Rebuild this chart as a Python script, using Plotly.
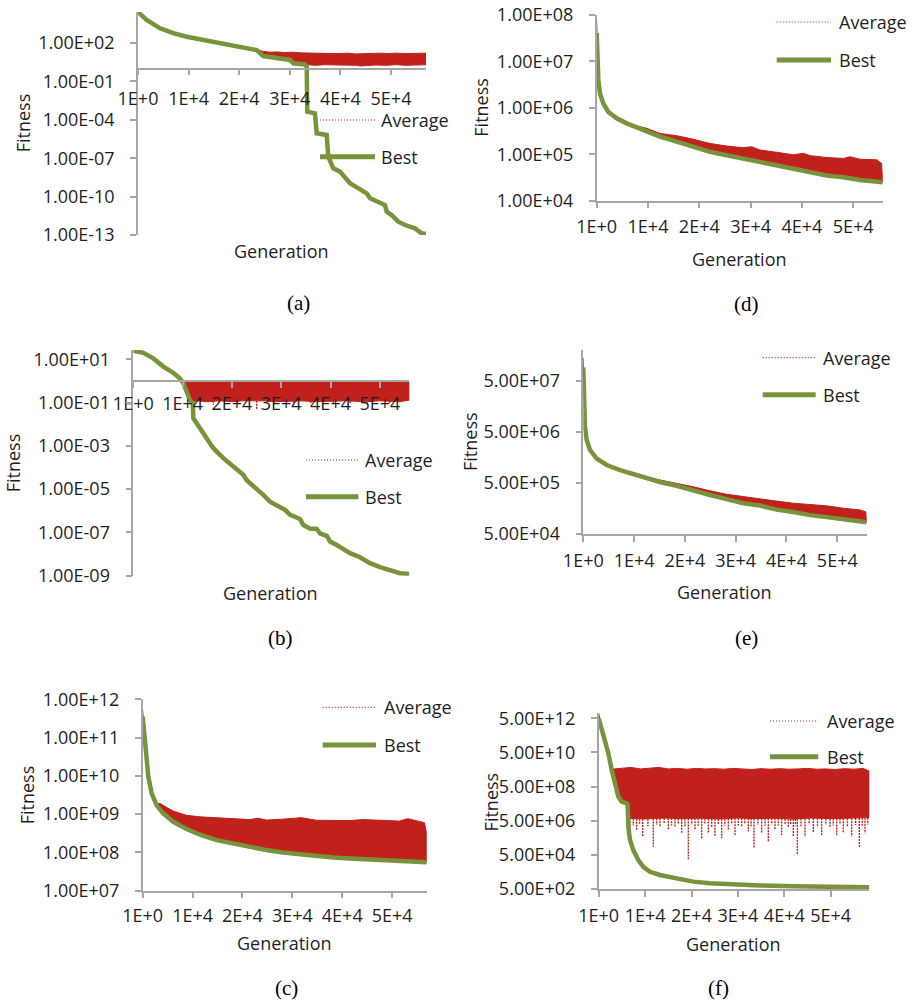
import numpy as np
import plotly.graph_objects as go

W, H = 913, 1005
RED = "#C0211A"
GREEN = "#77933C"
AXIS = "#A6A6A6"
TEXT = "#1F1F1F"
FONT = "Open Sans"
SERIF = "Liberation Serif"

# ---------------- tick labels ----------------
x_tick_vals = [1, 10001, 20001, 30001, 40001, 50001]
x_tick_text = ["1E+0", "1E+4", "2E+4", "3E+4", "4E+4", "5E+4"]

a_y_tick_vals = [1e2, 1e-1, 1e-4, 1e-7, 1e-10, 1e-13]
a_y_tick_text = ["1.00E+02", "1.00E-01", "1.00E-04", "1.00E-07", "1.00E-10", "1.00E-13"]
b_y_tick_vals = [1e1, 1e-1, 1e-3, 1e-5, 1e-7, 1e-9]
b_y_tick_text = ["1.00E+01", "1.00E-01", "1.00E-03", "1.00E-05", "1.00E-07", "1.00E-09"]
c_y_tick_vals = [1e12, 1e11, 1e10, 1e9, 1e8, 1e7]
c_y_tick_text = ["1.00E+12", "1.00E+11", "1.00E+10", "1.00E+09", "1.00E+08", "1.00E+07"]
d_y_tick_vals = [1e8, 1e7, 1e6, 1e5, 1e4]
d_y_tick_text = ["1.00E+08", "1.00E+07", "1.00E+06", "1.00E+05", "1.00E+04"]
e_y_tick_vals = [5e7, 5e6, 5e5, 5e4]
e_y_tick_text = ["5.00E+07", "5.00E+06", "5.00E+05", "5.00E+04"]
f_y_tick_vals = [5e12, 5e10, 5e8, 5e6, 5e4, 5e2]
f_y_tick_text = ["5.00E+12", "5.00E+10", "5.00E+08", "5.00E+06", "5.00E+04", "5.00E+02"]

series_names = ["Average", "Best"]
x_title = "Generation"
y_title = "Fitness"

# ---------------- panel (a) ----------------
a_best_gen = [1, 1720, 4350, 6980, 9620, 14880, 20160, 23450, 24770, 27400, 30040, 30700, 33000,
              33340, 33460, 34980, 35310, 37290, 37610, 38600, 39920, 41900, 43870, 45200, 45850,
              47830, 48810, 49150, 50130, 51450, 52770, 54740, 56060, 56920]
a_best_val = [2.6e4, 6.3e3, 1.4e3, 5.8e2, 3.1e2, 1.26e2, 51, 28, 9.5, 6.3, 4.7, 2.6, 2.1,
              1.4, 4.3e-4, 3.2e-4, 8.9e-6, 6.5e-6, 1.3e-7, 1.6e-8, 8.9e-9, 1.1e-9, 3.3e-10, 1.8e-10, 7.4e-11,
              3.0e-11, 2.2e-11, 6.6e-12, 3.6e-12, 1.1e-12, 6.0e-13, 3.3e-13, 1.35e-13, 1.2e-13]
a_avg_up_gen = [18800, 20160, 22000, 23450, 24770, 26000, 27500, 29000, 30700, 32000, 33500, 35000,
                36600, 38000, 39900, 41500, 43000, 44500, 46000, 47800, 49500, 51000, 52800, 54500,
                56000, 56920]
a_avg_up_val = [63, 55, 42, 30, 22, 19, 20, 18, 19, 17, 16, 15,
                16, 15, 15, 16, 14, 15, 15, 16, 15, 16, 15, 16,
                17, 16]
a_avg_lo_gen = [18800, 20160, 23450, 24770, 27400, 30040, 30700, 33000, 33500, 35000, 37000, 39000,
                41000, 43000, 44000, 45000, 47000, 49000, 51000, 53000, 55000, 56920]
a_avg_lo_val = [63, 51, 28, 9.5, 6.3, 4.7, 2.6, 2.1, 1.9, 1.8, 2.0, 1.8,
                1.9, 1.8, 1.6, 1.8, 1.9, 1.8, 2.0, 1.8, 1.9, 2.0]

# ---------------- panel (b) ----------------
b_best_gen = [1, 2030, 4060, 6090, 8110, 9470, 10140, 10830, 11500, 12050, 12170, 12860, 14200,
              16230, 18260, 20280, 22310, 23000, 25030, 26370, 27730, 29090, 30770, 31790, 33810,
              34480, 35840, 37200, 37870, 39230, 39900, 41260, 43960, 45990, 48010, 50040, 52070,
              54100, 55980]
b_best_val = [25, 20, 11, 4.6, 2.4, 1.3, 0.78, 0.32, 0.13, 0.093, 0.019, 0.011, 3.8e-3,
              7.8e-4, 2.7e-4, 1.1e-4, 4.6e-5, 2.6e-5, 1.1e-5, 5.4e-6, 2.6e-6, 1.7e-6, 1.1e-6, 6.5e-7, 4.2e-7,
              2.2e-7, 1.5e-7, 1.45e-7, 9.1e-8, 6.9e-8, 3.8e-8, 2.6e-8, 1.1e-8, 7.1e-9, 3.8e-9, 2.5e-9, 1.7e-9,
              1.3e-9, 1.2e-9]
b_avg_up_gen = [8110, 9000, 10000, 11000, 12000, 14000, 16000, 18000, 20000, 22000, 24000, 26000,
                28000, 30000, 32000, 34000, 36000, 38000, 40000, 42000, 44000, 46000, 48000, 50000,
                52000, 54000, 55980]
b_avg_up_val = [2.4, 1.6, 1.1, 0.95, 0.92, 0.9, 0.93, 0.9, 0.92, 0.9, 0.91, 0.93,
                0.9, 0.92, 0.94, 0.9, 0.92, 0.9, 0.92, 0.93, 0.9, 0.92, 0.9, 0.92,
                0.9, 0.92, 0.9]
b_avg_lo_gen = [8110, 9470, 10140, 10830, 11500, 12050, 13000, 15000, 17500, 20280, 22000, 26500,
                29000, 34000, 37000, 43000, 47350, 50000, 54100, 55980]
b_avg_lo_val = [2.4, 1.3, 0.78, 0.32, 0.13, 0.11, 0.12, 0.11, 0.12, 0.11, 0.12, 0.12,
                0.11, 0.12, 0.11, 0.12, 0.11, 0.12, 0.11, 0.13]
b_spike_gen = [16230, 21000, 25030, 28500, 32470, 36000, 40590, 44000, 47350, 52000]
b_spike_val = [0.078, 0.095, 0.046, 0.09, 0.078, 0.095, 0.087, 0.095, 0.091, 0.095]

# ---------------- panel (c) ----------------
c_best_gen = [1, 270, 670, 1130, 1800, 2800, 4130, 6130, 8800, 11470, 14800, 18130, 21470, 24800,
              28130, 31470, 34800, 38130, 41470, 44800, 48130, 51470, 56930]
c_best_val = [3.5e11, 1.3e11, 3.2e10, 9.5e9, 3.5e9, 1.7e9, 1.05e9, 6.3e8, 4.1e8, 2.9e8, 2.1e8, 1.7e8,
              1.35e8, 1.15e8, 1.0e8, 8.9e7, 8.1e7, 7.4e7, 6.9e7, 6.5e7, 6.2e7, 5.9e7, 5.5e7]
c_avg_up_gen = [1, 270, 670, 1130, 1800, 2800, 3470, 4800, 6130, 7470, 8800, 11470, 14800, 18130,
                21470, 23130, 24800, 28130, 29800, 31800, 34800, 38130, 41470, 44130, 48130, 51470,
                53130, 55470, 56470, 56930]
c_avg_up_val = [5.2e11, 1.3e11, 3.2e10, 9.5e9, 3.5e9, 1.9e9, 1.9e9, 1.5e9, 1.2e9, 1.05e9, 9.3e8, 8.5e8,
                8.1e8, 7.4e8, 7.2e8, 7.8e8, 7.0e8, 7.4e8, 7.8e8, 8.1e8, 6.9e8, 6.9e8, 6.8e8, 7.2e8,
                6.8e8, 6.6e8, 7.6e8, 6.6e8, 6.0e8, 3.2e8]

# ---------------- panel (d) ----------------
d_best_gen = [1, 130, 320, 650, 1300, 2270, 3900, 5850, 9100, 12340, 15590, 18840, 22090, 25340,
              28580, 31830, 35090, 38330, 41580, 44830, 48070, 51330, 55750]
d_best_val = [4.0e7, 1.07e7, 4.0e6, 2.0e6, 1.23e6, 8.1e5, 5.9e5, 4.6e5, 3.3e5, 2.4e5, 1.86e5, 1.45e5,
              1.12e5, 9.5e4, 8.1e4, 6.8e4, 5.6e4, 4.8e4, 4.3e4, 3.5e4, 3.2e4, 2.8e4, 2.5e4]
d_avg_up_gen = [1, 130, 320, 650, 1300, 2270, 3900, 5850, 9750, 12340, 15590, 18840, 22090, 25340,
                28580, 30210, 31830, 35090, 38330, 40280, 41580, 44830, 48070, 49370, 51330, 54570,
                55550, 55750]
d_avg_up_val = [7.1e7, 1.07e7, 4.0e6, 2.0e6, 1.23e6, 8.1e5, 5.9e5, 4.6e5, 3.6e5, 2.8e5, 2.5e5, 2.1e5,
                1.7e5, 1.5e5, 1.38e5, 1.45e5, 1.23e5, 1.1e5, 9.7e4, 1.05e5, 9.3e4, 8.5e4, 8.1e4, 8.8e4,
                7.8e4, 7.6e4, 6.3e4, 3.0e4]

# ---------------- panel (e) ----------------
e_best_gen = [1, 200, 330, 660, 1320, 2640, 4610, 7220, 10510, 15100, 18380, 21650, 24940, 28220,
              31500, 34780, 38070, 41340, 44630, 47910, 51180, 55790]
e_best_val = [9.1e7, 2.5e7, 6.3e6, 3.5e6, 2.2e6, 1.5e6, 1.12e6, 8.9e5, 7.1e5, 5.2e5, 4.4e5, 3.5e5,
              2.9e5, 2.4e5, 2.0e5, 1.8e5, 1.5e5, 1.35e5, 1.17e5, 1.07e5, 9.8e4, 8.5e4]
e_avg_up_gen = [1, 200, 330, 660, 1320, 2640, 4610, 7220, 10510, 15100, 18380, 21650, 24940, 28220,
                31500, 34780, 38070, 41340, 44630, 47910, 51180, 54460, 55640, 55790]
e_avg_up_val = [1.4e8, 2.5e7, 6.3e6, 3.5e6, 2.2e6, 1.5e6, 1.12e6, 8.9e5, 7.1e5, 5.7e5, 4.9e5, 4.2e5,
                3.5e5, 3.0e5, 2.7e5, 2.4e5, 2.2e5, 2.0e5, 1.86e5, 1.78e5, 1.6e5, 1.48e5, 1.35e5, 8.5e4]

# ---------------- panel (f) ----------------
f_best_gen = [1, 650, 1360, 2080, 2800, 3510, 4230, 4950, 6030, 6250, 6390, 6750, 7460, 8540, 9610,
              11060, 13210, 16810, 20390, 23990, 27590, 34760, 41940, 49140, 58320]
f_best_val = [5.0e12, 1.3e12, 2.7e11, 4.5e10, 4.7e9, 7.8e8, 1.3e8, 6.5e7, 5.2e7, 4.2e7, 2.2e6, 3.7e5,
              9.5e4, 2.5e4, 1.0e4, 5.1e3, 3.3e3, 2.1e3, 1.35e3, 1.07e3, 9.3e2, 8.1e2, 7.2e2, 6.6e2, 6.3e2]
f_avg_up_gen = [1, 650, 1360, 2080, 2800, 3500, 5000, 7000, 9000, 11000, 13000, 15000, 17000, 19000,
                21000, 23000, 25000, 27000, 29000, 31000, 33000, 35000, 37000, 39000, 41000, 43000,
                45000, 47000, 49000, 51000, 53000, 55000, 57000, 58320]
f_avg_up_val = [9.8e12, 1.3e12, 2.7e11, 4.5e10, 5.4e9, 5.4e9, 5.8e9, 6.6e9, 5.4e9, 5.8e9, 6.6e9, 5.4e9,
                5.8e9, 5.2e9, 5.8e9, 5.4e9, 5.6e9, 5.2e9, 5.8e9, 5.4e9, 5.0e9, 5.6e9, 5.2e9, 5.6e9,
                5.2e9, 5.4e9, 5.8e9, 5.2e9, 5.4e9, 5.0e9, 5.6e9, 5.2e9, 5.8e9, 4.0e9]
f_avg_lo_gen = [2800, 3510, 4230, 4950, 6030, 6250, 6500, 10000, 14000, 18000, 22000, 26000, 30000,
                34000, 38000, 42000, 46000, 50000, 54000, 58320]
f_avg_lo_val = [4.7e9, 7.8e8, 1.3e8, 6.5e7, 5.2e7, 4.2e7, 6.9e6, 6.3e6, 7.2e6, 6.6e6, 7.0e6, 6.3e6, 7.2e6,
                6.6e6, 7.0e6, 6.3e6, 7.2e6, 6.6e6, 7.0e6, 7.6e6]
f_spike_gen = [6750, 7450, 8180, 8800, 9480, 10600, 11770, 12500, 13210, 14100, 15010, 15700, 16440,
               17150, 17880, 18600, 19320, 20050, 20750, 21450, 22190, 22900, 23630, 24350, 25060,
               25800, 26500, 27200, 27940, 28650, 29380, 30100, 30810, 31500, 32250, 32850, 33470,
               34300, 35120, 35850, 36560, 37300, 38000, 38700, 39430, 40150, 40870, 41400, 41950,
               42400, 42810, 43600, 44460, 45350, 46260, 47150, 48050, 48950, 49850, 50550, 51290,
               52000, 52720, 53600, 54520, 55350, 56170, 56800, 57390, 58000]
f_spike_val = [7.2e5, 2.6e6, 1.45e6, 3.0e6, 5.8e5, 2.4e6, 1.5e5, 2.8e6, 2.2e6, 3.2e6, 1.55e6, 2.6e6,
               2.2e6, 3.0e6, 9.1e5, 2.4e6, 2.8e4, 2.9e6, 1.45e6, 2.5e6, 4.7e5, 3.1e6, 9.1e5, 2.2e6,
               5.8e5, 2.9e6, 4.7e5, 2.5e6, 1.45e6, 3.0e6, 7.2e5, 2.6e6, 2.2e6, 3.1e6, 1.15e6, 2.4e6,
               1.2e5, 2.8e6, 9.1e5, 2.5e6, 3.0e5, 3.0e6, 1.45e6, 2.6e6, 7.2e5, 2.9e6, 2.2e6, 3.2e6,
               5.8e5, 2.6e6, 4.9e4, 2.4e6, 5.8e5, 3.0e6, 9.1e5, 2.5e6, 7.2e5, 2.9e6, 2.2e6, 2.6e6,
               7.2e5, 3.0e6, 9.1e5, 2.4e6, 5.8e5, 2.8e6, 1.5e5, 2.6e6, 9.1e5, 3.0e6]

# ---------------- layout (pixel geometry of each panel) ----------------
panels = [
    dict(key="a", left=138, right=426, top=12, bottom=235, ylo=-13, yhi=4.42, cross=True, xstand=8,
         yt=a_y_tick_vals, ytt=a_y_tick_text, best=(a_best_gen, a_best_val),
         up=(a_avg_up_gen, a_avg_up_val), lo=(a_avg_lo_gen, a_avg_lo_val), spikes=None,
         leg=(320, 375, 120, 156.7, 379.3), gen=(281.7, 250.7), fit=(23.3, 123), cap=(298.3, 303.3)),
    dict(key="d", left=596.7, right=882.7, top=14.7, bottom=200.7, ylo=4, yhi=8, cross=False, xstand=3,
         yt=d_y_tick_vals, ytt=d_y_tick_text, best=(d_best_gen, d_best_val),
         up=(d_avg_up_gen, d_avg_up_val), lo=(d_best_gen, d_best_val), spikes=None,
         leg=(776.7, 831, 22, 60, 836.7), gen=(739, 259.3), fit=(480.7, 107), cap=(746, 304)),
    dict(key="b", left=133.3, right=409.3, top=350, bottom=575.7, ylo=-9, yhi=1.43, cross=True, xstand=1,
         yt=b_y_tick_vals, ytt=b_y_tick_text, best=(b_best_gen, b_best_val),
         up=(b_avg_up_gen, b_avg_up_val), lo=(b_avg_lo_gen, b_avg_lo_val), spikes=(b_spike_gen, b_spike_val),
         leg=(306, 358.3, 460, 496.7, 363.3), gen=(270.7, 593.3), fit=(13.3, 463), cap=(280.7, 638)),
    dict(key="e", left=583.3, right=866.7, top=350, bottom=534, ylo=4.699, yhi=8.30, cross=False, xstand=4,
         yt=e_y_tick_vals, ytt=e_y_tick_text, best=(e_best_gen, e_best_val),
         up=(e_avg_up_gen, e_avg_up_val), lo=(e_best_gen, e_best_val), spikes=None,
         leg=(762.7, 815.7, 357.7, 394.7, 821), gen=(724.3, 591.7), fit=(469.3, 441.7), cap=(746.7, 638.3)),
    dict(key="c", left=142.7, right=426.7, top=699.3, bottom=890.7, ylo=7, yhi=12, cross=False, xstand=2,
         yt=c_y_tick_vals, ytt=c_y_tick_text, best=(c_best_gen, c_best_val),
         up=(c_avg_up_gen, c_avg_up_val), lo=(c_best_gen, c_best_val), spikes=None,
         leg=(322.7, 376, 707.3, 745, 381.7), gen=(284.3, 943.3), fit=(27.3, 795), cap=(286, 988.3)),
    dict(key="f", left=598.7, right=869.3, top=713.3, bottom=889, ylo=2.699, yhi=12.99, cross=False, xstand=4,
         yt=f_y_tick_vals, ytt=f_y_tick_text, best=(f_best_gen, f_best_val),
         up=(f_avg_up_gen, f_avg_up_val), lo=(f_avg_lo_gen, f_avg_lo_val), spikes=(f_spike_gen, f_spike_val),
         leg=(770, 818.3, 721, 756.7, 825), gen=(733.3, 944), fit=(490.7, 801.7), cap=(718.3, 988.3)),
]


def px_x(v):
    return v / W


def px_y(v):
    return 1 - v / H


fig = go.Figure()
shapes = []
annotations = []
layout = dict(width=W, height=H, margin=dict(l=0, r=0, t=0, b=0, pad=0), autosize=False,
              paper_bgcolor="white", plot_bgcolor="rgba(0,0,0,0)", showlegend=False,
              font=dict(family=FONT, size=18, color=TEXT))

tickfont = dict(family=FONT, size=18, color=TEXT)

for i, p in enumerate(panels, start=1):
    sx = "" if i == 1 else str(i)
    xname, yname = "x" + sx, "y" + sx
    up_g, up_v = p["up"]
    lo_g, lo_v = p["lo"]
    bg, bv = p["best"]
    xmax = bg[-1]

    # Average band (envelope of the noisy average series)
    poly_x = list(up_g) + list(lo_g)[::-1]
    poly_y = list(up_v) + list(lo_v)[::-1]
    fig.add_trace(go.Scatter(x=poly_x, y=poly_y, mode="lines", fill="toself", fillcolor=RED,
                             line=dict(color=RED, width=1), name=series_names[0],
                             xaxis=xname, yaxis=yname, hoverinfo="skip"))
    if p["spikes"] is not None:
        sg, sv = p["spikes"]
        lg = np.log10(lo_v)
        sxs, sys = [], []
        for g, v in zip(sg, sv):
            base = 10 ** np.interp(g, lo_g, lg)
            sxs += [g, g, None]
            sys += [base, v, None]
        fig.add_trace(go.Scatter(x=sxs, y=sys, mode="lines",
                                 line=dict(color=RED, width=1.4, dash="2px,1px"),
                                 xaxis=xname, yaxis=yname, hoverinfo="skip"))
    # Best
    fig.add_trace(go.Scatter(x=bg, y=bv, mode="lines", line=dict(color=GREEN, width=4.5),
                             name=series_names[1], xaxis=xname, yaxis=yname))

    xdom = [px_x(p["left"]), px_x(p["right"])]
    ydom = [px_y(p["bottom"]), px_y(p["top"])]
    xa = dict(domain=xdom, range=[1, xmax], tickvals=x_tick_vals, ticktext=x_tick_text,
              showline=True, linecolor=AXIS, linewidth=1.5, ticks="outside", ticklen=6,
              tickcolor=AXIS, tickwidth=1.5, showgrid=False, zeroline=False, tickfont=tickfont,
              ticklabelstandoff=p["xstand"], automargin=False, fixedrange=True)
    if p["cross"]:
        cross_py = p["top"] + (p["yhi"] - 0) / (p["yhi"] - p["ylo"]) * (p["bottom"] - p["top"])
        xa.update(anchor="free", position=px_y(cross_py))
    else:
        xa.update(anchor=yname)
    ya = dict(type="log", domain=ydom, range=[p["ylo"], p["yhi"]], tickvals=p["yt"], ticktext=p["ytt"],
              showline=True, linecolor=AXIS, linewidth=1.5, ticks="outside", ticklen=6,
              tickcolor=AXIS, tickwidth=1.5, showgrid=False, zeroline=False, tickfont=tickfont,
              anchor=xname, ticklabelstandoff=12, automargin=False, fixedrange=True)
    layout["xaxis" + sx] = xa
    layout["yaxis" + sx] = ya

    # legend (drawn manually, one per panel)
    lx0, lx1, ly_avg, ly_best, ltx = p["leg"]
    shapes.append(dict(type="line", xref="paper", yref="paper", x0=px_x(lx0), x1=px_x(lx1),
                       y0=px_y(ly_avg), y1=px_y(ly_avg), line=dict(color=RED, width=1.2, dash="1px,2px")))
    shapes.append(dict(type="line", xref="paper", yref="paper", x0=px_x(lx0), x1=px_x(lx1),
                       y0=px_y(ly_best), y1=px_y(ly_best), line=dict(color=GREEN, width=5)))
    annotations.append(dict(text=series_names[0], xref="paper", yref="paper", x=px_x(ltx), y=px_y(ly_avg),
                            xanchor="left", yanchor="middle", showarrow=False, font=tickfont))
    annotations.append(dict(text=series_names[1], xref="paper", yref="paper", x=px_x(ltx), y=px_y(ly_best),
                            xanchor="left", yanchor="middle", showarrow=False, font=tickfont))
    # axis titles and caption
    gx, gy = p["gen"]
    annotations.append(dict(text=x_title, xref="paper", yref="paper", x=px_x(gx), y=px_y(gy),
                            xanchor="center", yanchor="middle", showarrow=False, font=tickfont))
    fx, fy = p["fit"]
    annotations.append(dict(text=y_title, xref="paper", yref="paper", x=px_x(fx), y=px_y(fy),
                            xanchor="center", yanchor="middle", showarrow=False, textangle=-90, font=tickfont))
    cx, cy = p["cap"]
    annotations.append(dict(text="(" + p["key"] + ")", xref="paper", yref="paper", x=px_x(cx), y=px_y(cy),
                            xanchor="center", yanchor="middle", showarrow=False,
                            font=dict(family=SERIF, size=21, color="#000000")))

layout["shapes"] = shapes
layout["annotations"] = annotations
fig.update_layout(**layout)
fig.write_html("out.html", config=dict(displayModeBar=False),
               post_script="document.body.style.margin='0';document.body.style.padding='0';")
